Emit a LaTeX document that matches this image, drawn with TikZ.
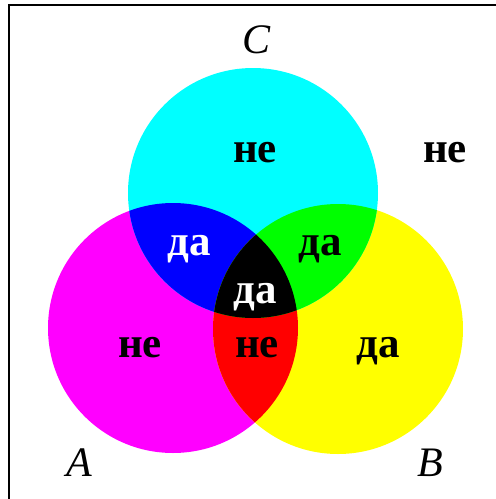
\documentclass[tikz,border=0pt]{standalone}
\usepackage{fontspec}
\setmainfont{Liberation Serif}
\definecolor{cC}{RGB}{0,255,255}
\definecolor{cM}{RGB}{255,0,255}
\definecolor{cY}{RGB}{255,255,0}
\definecolor{cR}{RGB}{255,0,0}
\definecolor{cG}{RGB}{0,255,0}
\definecolor{cBl}{RGB}{0,0,255}
\definecolor{cK}{RGB}{0,0,0}
\begin{document}
\begin{tikzpicture}[x=1pt,y=-1pt,
  word/.style={font=\fontsize{43}{43}\selectfont\bfseries, anchor=base, inner sep=0pt},
  setlabel/.style={font=\fontsize{42}{42}\selectfont\itshape, anchor=base, inner sep=0pt},
  frameline/.style={draw=black, line width=1.2pt}]
\useasboundingbox (0,0) rectangle (496,499);
\fill[white] (0,0) rectangle (496,499);
\draw[frameline] (9,499) -- (9,5) -- (496,5);
\coordinate (cA) at (173,328);
\coordinate (cB) at (338,329);
\coordinate (cCc) at (253,193);
\fill[cM] (cA) circle[radius=125];
\fill[cY] (cB) circle[radius=125];
\fill[cC] (cCc) circle[radius=125];
\begin{scope}
  \clip (cA) circle[radius=125];
  \fill[cBl] (cCc) circle[radius=125];
  \fill[cR] (cB) circle[radius=125];
\end{scope}
\begin{scope}
  \clip (cB) circle[radius=125];
  \fill[cG] (cCc) circle[radius=125];
\end{scope}
\begin{scope}
  \clip (cA) circle[radius=125];
  \clip (cB) circle[radius=125];
  \fill[cK] (cCc) circle[radius=125];
\end{scope}
\node[word] (nC) at (255,162) {не};
\node[word] (nOut) at (445,162) {не};
\node[word, text=white] (dAC) at (189,255) {да};
\node[word] (dBC) at (320,255) {да};
\node[word, text=white] (dABC) at (255,303) {да};
\node[word] (nA) at (140,357) {не};
\node[word] (nAB) at (257,357) {не};
\node[word] (dB) at (378,357) {да};
\node[setlabel] (lA) at (79,476) {A};
\node[setlabel] (lB) at (430,476) {B};
\node[setlabel] (lC) at (257,53) {C};
\end{tikzpicture}
\end{document}
